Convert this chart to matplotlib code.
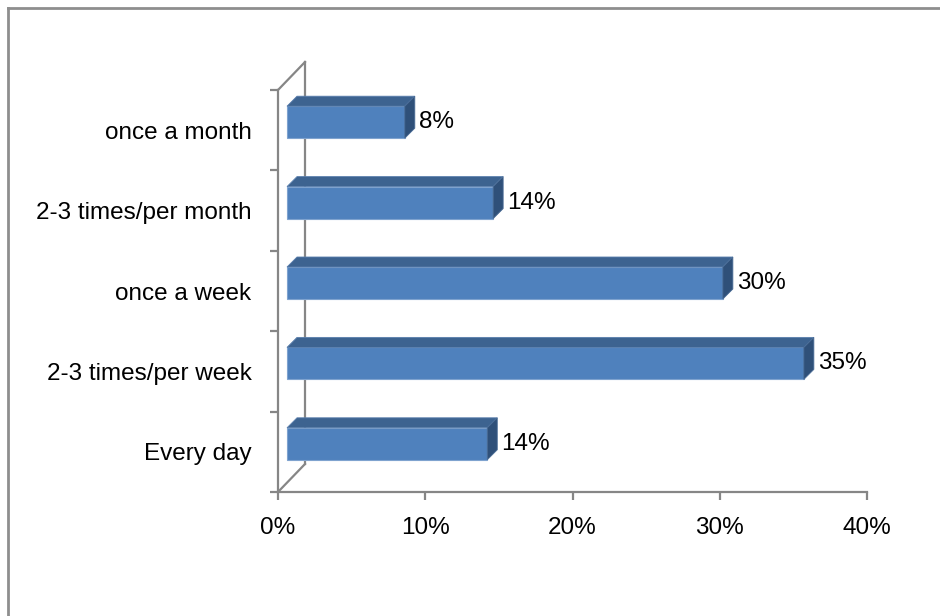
import matplotlib
matplotlib.use("Agg")
import matplotlib.pyplot as plt
from matplotlib.patches import Polygon
from matplotlib.lines import Line2D
import numpy as np

# data (bottom to top as drawn)
categories = ["Every day", "2-3 times/per week", "once a week",
              "2-3 times/per month", "once a month"]
values = [13.6, 35.1, 29.6, 14.0, 8.0]
labels = ["14%", "35%", "30%", "14%", "8%"]
xticks = [0, 10, 20, 30, 40]
xticklabels = ["0%", "10%", "20%", "30%", "40%"]

plt.rcParams["font.family"] = ["Liberation Sans", "DejaVu Sans"]
FS = 17.5

W, H = 940, 616
fig = plt.figure(figsize=(W / 100, H / 100), dpi=100)
fig.patch.set_facecolor("white")

# plot area placed in pixel terms
x0p, x1p, ytop, ybot = 278, 867, 90, 492
ax = fig.add_axes([x0p / W, 1 - ybot / H, (x1p - x0p) / W, (ybot - ytop) / H])
ax.set_xlim(0, 40)
ax.set_ylim(-0.5, 4.5)

pxx = (x1p - x0p) / 40.0        # px per percent
pxy = (ybot - ytop) / 5.0       # px per category
# depth of the 3d box and bar offsets, in data units
wdx, wdy = 27 / pxx, 28 / pxy
bdx, bdy = 9 / pxx, 8 / pxy
ddx, ddy = 10 / pxx, 10 / pxy
bh = 32 / pxy

grey = "#868686"
front = "#4F81BD"
topc = "#3D6390"
sidec = "#2F5079"

# back wall and floor edges
ax.plot([wdx, wdx], [-0.5 + wdy, 4.5 + wdy], color=grey, lw=1.6, clip_on=False)
ax.plot([0, wdx], [4.5, 4.5 + wdy], color=grey, lw=1.6, clip_on=False)
ax.plot([0, wdx], [-0.5, -0.5 + wdy], color=grey, lw=1.6, clip_on=False)

y = np.arange(len(categories))
yc = y + bdy
ax.barh(yc, values, height=bh, left=bdx, color=front,
        edgecolor="#7FA3CF", linewidth=0.8, zorder=3)
for yi, v, lab in zip(yc, values, labels):
    xr = bdx + v
    t = yi + bh / 2
    b = yi - bh / 2
    ax.add_patch(Polygon([(bdx, t), (xr, t), (xr + ddx, t + ddy), (bdx + ddx, t + ddy)],
                         closed=True, facecolor=topc, edgecolor="#5A7FAD",
                         linewidth=0.6, zorder=3, clip_on=False))
    ax.add_patch(Polygon([(xr, b), (xr, t), (xr + ddx, t + ddy), (xr + ddx, b + ddy)],
                         closed=True, facecolor=sidec, edgecolor="#4A6C96",
                         linewidth=0.6, zorder=3, clip_on=False))
    ax.text(xr + ddx + 4 / pxx, yi, lab, ha="left", va="center", fontsize=FS)

for s in ["top", "right"]:
    ax.spines[s].set_visible(False)
for s in ["left", "bottom"]:
    ax.spines[s].set_color(grey)
    ax.spines[s].set_linewidth(1.6)

ax.set_xticks(xticks)
ax.set_xticklabels(xticklabels, fontsize=FS)
ax.tick_params(axis="x", length=6, width=1.6, color=grey, pad=12)

ax.set_yticks(np.arange(-0.5, 5, 1.0))
ax.set_yticklabels([])
ax.set_yticks(y, minor=True)
ax.set_yticklabels(categories, minor=True, fontsize=FS)
ax.tick_params(axis="y", which="major", length=6, width=1.6, color=grey)
ax.tick_params(axis="y", which="minor", length=0, pad=19)

# chart area border (left and top only visible)
fig.add_artist(Line2D([8 / W, 8 / W], [0, 1 - 8 / H], color="#8E8E8E", lw=2))
fig.add_artist(Line2D([8 / W, 1], [1 - 8 / H, 1 - 8 / H], color="#8E8E8E", lw=2))

fig.savefig("out.png", dpi=100, facecolor="white")
